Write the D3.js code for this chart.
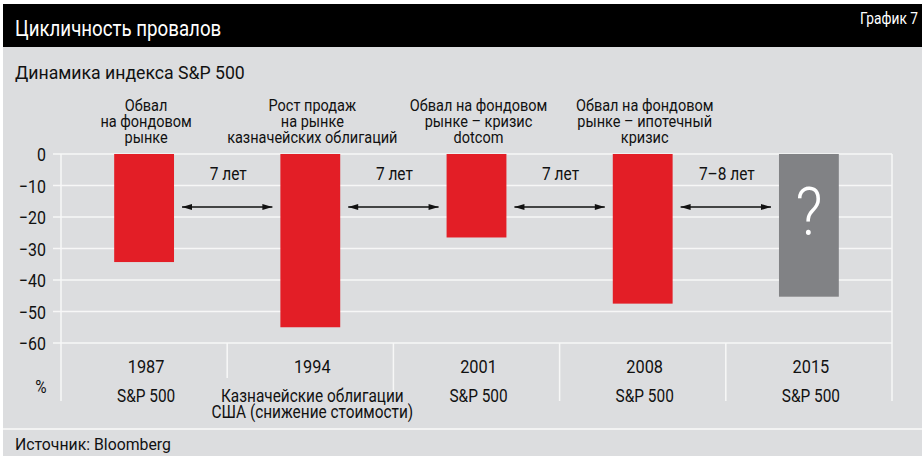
<!DOCTYPE html>
<html><head><meta charset="utf-8">
<script src="https://cdn.jsdelivr.net/npm/d3@7"></script>
<style>
html,body{margin:0;padding:0;background:#fff;}
svg{display:block;font-family:Roboto,"Noto Sans",sans-serif;}
</style></head>
<body><svg id="c" width="922" height="456"></svg>
<script>
const years = ["1987","1994","2001","2008","2015"];
const values = [-34.3, -55, -26.5, -47.5, -45.3];
const barColors = ["#e31e26","#e31e26","#e31e26","#e31e26","#818285"];
const topNotes = [
  ["Обвал","на фондовом","рынке"],
  ["Рост продаж","на рынке","казначейских облигаций"],
  ["Обвал на фондовом","рынке – кризис","dotcom"],
  ["Обвал на фондовом","рынке – ипотечный","кризис"],
  []
];
const bottomNotes = [["S&P 500"],["Казначейские облигации","США (снижение стоимости)"],["S&P 500"],["S&P 500"],["S&P 500"]];
const gapLabels = ["7 лет","7 лет","7 лет","7–8 лет"];
const yTicks = [0,-10,-20,-30,-40,-50,-60];

const svg = d3.select("#c");
const W = 922, H = 456;
const SX = 0.86;

function txt(parent, x, y, s, size, anchor, fill, sx) {
  return parent.append("text")
    .attr("transform", `translate(${x},${y}) scale(${sx||SX},1)`)
    .attr("text-anchor", anchor || "start")
    .attr("font-size", size)
    .attr("fill", fill || "#111")
    .text(s);
}

// backgrounds
svg.append("rect").attr("x",3).attr("y",4).attr("width",W-3).attr("height",H-4).attr("fill","#dcdddf");
svg.append("rect").attr("x",3).attr("y",4).attr("width",W-3).attr("height",43).attr("fill","#000");
txt(svg,15,36,"Цикличность провалов",22,"start","#fff",0.85);
txt(svg,918,24,"График 7",16,"end","#fff");
txt(svg,15,79,"Динамика индекса S&P 500",19,"start","#111",0.93);
svg.append("rect").attr("x",3).attr("y",428).attr("width",W-3).attr("height",2).attr("fill","#f3f3f3");
txt(svg,15,450,"Источник: Bloomberg",17,"start","#111",0.93);

const x = d3.scaleBand().domain(years).range([61,892]).paddingInner(0.64).paddingOuter(0.32);
const y = d3.scaleLinear().domain([-60,0]).range([343,154]);
const step = x.step();

const g = svg.append("g");
// gridlines
g.selectAll("line.grid").data(yTicks).join("line")
  .attr("x1",53).attr("x2",892).attr("y1",d=>y(d)).attr("y2",d=>y(d))
  .attr("stroke","#f7f7f7").attr("stroke-width",1.5);
// y tick labels via axis
const yAxis = d3.axisLeft(y).tickValues(yTicks).tickSize(0).tickPadding(0).tickFormat(d3.format("d"));
const ya = svg.append("g").attr("transform","translate(46,0)").call(yAxis);
ya.select(".domain").remove();
ya.selectAll(".tick text").attr("font-size",19).attr("fill","#111")
  .attr("font-family","Roboto, sans-serif").attr("dy","0.35em")
  .attr("transform","scale(0.84,1)");
txt(svg,41,393,"%",18,"middle","#111");

// vertical separators
const seps = [61].concat(years.map(d => x(d) + x.bandwidth()/2 + step/2));
seps.forEach((sx,i) => {
  let y2 = 401;
  if (i === 1) y2 = 378;
  const y1 = (i === 0 || i === seps.length-1) ? 154 : 343;
  g.append("line").attr("x1",sx).attr("x2",sx).attr("y1",y1).attr("y2",y2)
    .attr("stroke","#f7f7f7").attr("stroke-width",1.5);
});

// bars
g.selectAll("rect.bar").data(years).join("rect")
  .attr("x",d=>x(d)).attr("width",x.bandwidth())
  .attr("y",y(0)).attr("height",(d,i)=>y(values[i])-y(0))
  .attr("fill",(d,i)=>barColors[i]);

// question mark
svg.append("text").attr("transform",`translate(${x("2015")+x.bandwidth()/2},235) scale(0.9,1)`).attr("text-anchor","middle")
  .attr("fill","#fff").attr("font-size",66).attr("font-family","Roboto, sans-serif").attr("font-weight",300).text("?");

// top notes
topNotes.forEach((lines,i) => {
  const cx = x(years[i]) + x.bandwidth()/2 + 2;
  lines.forEach((t,j) => {
    txt(svg, cx, 143 + (j - (lines.length-1))*16, t, 16.5, "middle", "#111", 0.88);
  });
});

// year labels & bottom notes
years.forEach((yr,i) => {
  const cx = x(yr) + x.bandwidth()/2 + 2;
  txt(svg, cx, 373, yr, 19, "middle", "#111");
  bottomNotes[i].forEach((t,j) => {
    txt(svg, cx, 402 + j*16, t, 17.5, "middle", "#111", 0.88);
  });
});

// arrows
const defs = svg.append("defs");
["s","e"].forEach(k => {
  defs.append("marker").attr("id","ar"+k).attr("viewBox","0 0 10 6").attr("refX",k==="e"?10:0).attr("refY",3)
    .attr("markerWidth",11).attr("markerHeight",6).attr("markerUnits","userSpaceOnUse").attr("orient","auto")
    .append("path").attr("d",k==="e"?"M0,0L10,3L0,6Z":"M10,0L0,3L10,6Z").attr("fill","#111");
});
gapLabels.forEach((lab,i) => {
  const x1 = x(years[i]) + x.bandwidth() + 8;
  const x2 = x(years[i+1]) - 8;
  svg.append("line").attr("x1",x1).attr("x2",x2).attr("y1",207).attr("y2",207)
    .attr("stroke","#111").attr("stroke-width",1.3)
    .attr("marker-start","url(#ars)").attr("marker-end","url(#are)");
  txt(svg, (x1+x2)/2+1, 180, lab, 18, "middle", "#111");
});
</script></body></html>
